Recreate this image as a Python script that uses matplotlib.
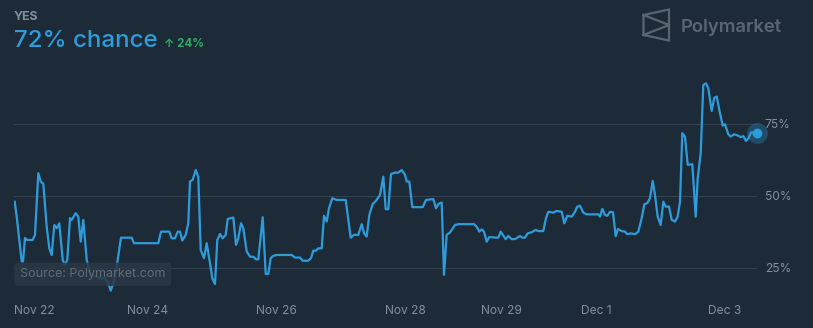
import matplotlib.pyplot as plt
from matplotlib.lines import Line2D

# horizontal position along the timeline (chart units) and YES price in %
t = [14.7, 16.7, 21.7, 23, 25, 27.3, 32.7, 35, 38.3, 40.7, 43.3, 46.7, 49.3, 51.7,
     54.3, 56.7, 59.3, 62.7, 65, 67.3, 70, 71.7, 75.7, 78.3, 80.7, 83.3, 86.7, 90,
     95, 100, 105, 108.3, 110.7, 113.3, 116.7, 121, 131.7, 134, 158.3, 161, 169.3,
     171.7, 175, 177.7, 180, 182.3, 185.7, 188.3, 190, 192.7, 195.7, 198.3, 200.7,
     204, 206.7, 210, 212.3, 215, 217.3, 220, 222.7, 225.7, 227.7, 233.3, 236,
     238.3, 241, 243.3, 246.7, 250, 253.3, 256, 258.3, 262.7, 265.7, 268.3, 270.7,
     273.3, 276.7, 291.7, 295, 300, 302.7, 308.3, 311, 313.3, 316, 318.3, 321.7,
     324, 326.7, 329, 332.3, 336.7, 345.7, 350.7, 354, 358.3, 361.7, 364, 366.7,
     369.3, 372.7, 376, 380, 383.3, 385.7, 388.3, 391, 395, 398.3, 401.7, 405,
     406.7, 409.3, 412.3, 422.7, 426, 433.3, 436, 438.3, 441.7, 444, 446.7, 450,
     455, 458.3, 474, 476.7, 479.3, 481.7, 484, 486.7, 489.3, 498.3, 500.7, 505.7,
     508.3, 511.7, 515, 520, 522.3, 525, 527.7, 531.7, 535.7, 538.3, 543.3, 546,
     548.3, 553.3, 556.7, 561.7, 564.3, 567.3, 571.7, 575, 577.3, 580, 583.3,
     586.7, 598.3, 600, 602.3, 605, 607.3, 610, 613, 615.7, 618, 621.7, 625,
     627.3, 630.7, 635, 638.3, 641.7, 644.3, 647.3, 650, 652.7, 655, 657.7, 660.7,
     663.3, 665.7, 669, 671.7, 675, 677.7, 680, 682.3, 685, 687.7, 692.3, 695.7,
     697.7, 700.7, 703.3, 706, 708.3, 711.7, 714.3, 716.7, 720, 722.7, 725, 728.3,
     730.7, 734, 738.3, 741, 743.3, 746, 748.3, 751, 756.7]
price = [48.0, 42.8, 27.2, 27.2, 35.4, 34.7, 34.7, 36.5, 57.9, 55.0, 54.2, 39.3, 31.8,
         29.5, 39.9, 38.8, 40.5, 27.8, 26.0, 27.8, 42.3, 41.7, 44.0, 42.8, 34.1, 41.7,
         27.8, 23.2, 22.0, 21.4, 21.4, 19.7, 17.1, 19.7, 25.5, 35.5, 35.5, 33.6, 33.6,
         37.6, 37.6, 35.3, 35.3, 37.6, 37.6, 34.5, 36.5, 40.5, 55.0, 55.6, 59.0, 56.7,
         31.2, 28.4, 33.6, 26.6, 21.4, 19.4, 34.7, 36.8, 35.3, 36.5, 42.0, 42.5, 33.0,
         35.3, 40.5, 38.8, 30.7, 28.9, 28.9, 28.0, 28.0, 42.6, 22.9, 22.9, 28.4, 29.2,
         29.5, 29.5, 28.6, 28.6, 27.5, 27.5, 28.4, 31.0, 31.0, 31.8, 31.8, 43.1, 41.1,
         45.7, 49.2, 48.6, 48.6, 35.5, 36.5, 36.5, 40.2, 37.0, 35.9, 43.4, 47.2, 48.3,
         50.3, 56.7, 45.4, 45.4, 57.6, 58.1, 58.1, 59.0, 57.3, 55.0, 55.0, 46.1, 46.1,
         48.6, 48.9, 45.7, 47.2, 47.7, 22.6, 36.5, 37.3, 39.9, 40.2, 40.2, 39.3, 37.6,
         38.4, 37.6, 34.1, 35.7, 35.5, 37.6, 35.0, 36.1, 35.0, 35.0, 36.1, 35.5, 35.5,
         37.0, 37.4, 38.2, 37.8, 37.8, 42.3, 44.5, 44.2, 44.8, 44.5, 40.5, 43.1, 42.8,
         44.5, 46.3, 46.6, 44.2, 43.6, 43.6, 42.8, 45.5, 43.4, 43.1, 44.5, 44.3, 36.0,
         38.5, 37.8, 37.6, 36.7, 37.0, 36.7, 37.6, 42.3, 47.1, 47.5, 49.2, 55.2, 50.3,
         42.8, 39.9, 48.0, 46.3, 46.3, 41.7, 41.1, 42.8, 48.0, 71.8, 70.6, 60.8, 61.0,
         42.8, 56.1, 64.8, 88.5, 89.1, 87.4, 79.5, 84.1, 84.5, 78.7, 74.4, 74.9, 71.4,
         70.6, 71.4, 70.9, 70.4, 70.8, 69.1, 70.0, 72.0, 72.0]

tick_pos = [34, 148, 276, 405, 501, 596, 725]
tick_labels = ['Nov 22', 'Nov 24', 'Nov 26', 'Nov 28', 'Nov 29', 'Dec 1', 'Dec 3']
y_ticks = [25, 50, 75]

BG = '#1d2b39'
BLUE = '#2d9cdb'
GREY = '#858f98'
FONT = ['Inter', 'DejaVu Sans']

plt.rcParams['font.family'] = FONT
W, H = 813, 328
fig = plt.figure(figsize=(W / 100, H / 100), dpi=100, facecolor=BG)
ax = fig.add_axes([14 / W, 1 - 295 / H, 743 / W, 235 / H], facecolor=BG)

ax.plot(t, price, color=BLUE, lw=1.6, solid_joinstyle='round', zorder=3)
ax.plot(t[-1], price[-1], 'o', ms=15, color=BLUE, alpha=0.3, mec='none',
        clip_on=False, zorder=4)
ax.plot(t[-1], price[-1], 'o', ms=7, color=BLUE, mec='none', clip_on=False, zorder=5)

ax.set_xlim(14, 757)
ax.set_ylim(15.6, 97.2)
ax.set_xticks(tick_pos, tick_labels)
ax.set_yticks(y_ticks, [f'{v}%' for v in y_ticks])
ax.yaxis.tick_right()
ax.tick_params(length=0, colors=GREY, labelsize=8.6)
ax.tick_params(axis='x', pad=7.5)
ax.tick_params(axis='y', pad=5.5)
ax.grid(axis='y', color='#34424f', lw=0.8)
ax.grid(axis='x', visible=False)
for s in ax.spines.values():
    s.set_visible(False)


def px(x, y):
    return x / W, 1 - y / H


# header
fig.text(*px(14, 19.5), 'YES', color=GREY, fontsize=8.9, fontweight='bold', va='baseline')
fig.text(*px(13.5, 46.7), '72% chance', color=BLUE, fontsize=17.4, fontweight='medium',
         va='baseline')
fig.text(*px(164, 46.7), '↑ 24%', color='#27ae60', fontsize=8.3, fontweight='bold',
         va='baseline')

# logo
fig.text(*px(681, 32.3), 'Polymarket', color='#5a6570', fontsize=13.3,
         fontweight='semibold', va='baseline')
logo = [(643.5, 15), (669, 9.5), (669, 40.5), (643.5, 35), (643.5, 15),
        (669, 25), (643.5, 35)]
fig.add_artist(Line2D([px(*p)[0] for p in logo], [px(*p)[1] for p in logo],
                      color='#5a6570', lw=1.6, solid_joinstyle='miter'))

# source badge
fig.text(*px(20, 277.3), 'Source: Polymarket.com', color='#5f6b77', fontsize=9.0,
         va='baseline',
         bbox=dict(boxstyle='round,pad=0.45,rounding_size=0.3', fc='#2a3846',
                   ec='none', alpha=0.85))

fig.savefig('out.png', dpi=100, facecolor=BG)
